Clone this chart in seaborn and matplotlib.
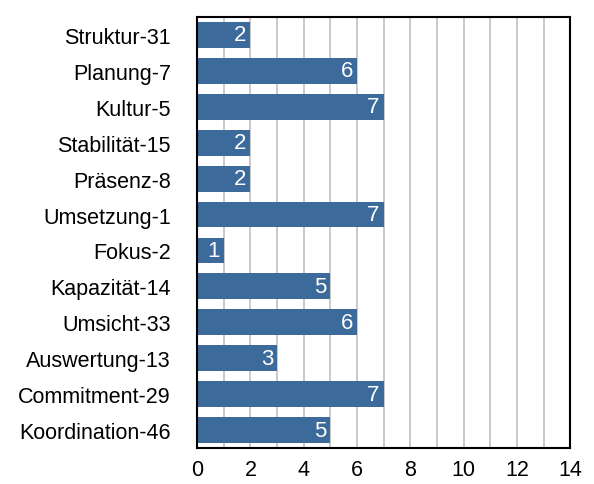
import matplotlib
matplotlib.use("Agg")
import matplotlib.pyplot as plt
import seaborn as sns
import pandas as pd
from matplotlib.ticker import MultipleLocator

categories = ["Struktur-31", "Planung-7", "Kultur-5", "Stabilität-15", "Präsenz-8",
              "Umsetzung-1", "Fokus-2", "Kapazität-14", "Umsicht-33", "Auswertung-13",
              "Commitment-29", "Koordination-46"]
values = [2, 6, 7, 2, 2, 7, 1, 5, 6, 3, 7, 5]

df = pd.DataFrame({"label": categories, "value": values})

sns.set_theme(style="white")
plt.rcParams['font.family'] = ['Liberation Sans', 'DejaVu Sans']

fig = plt.figure(figsize=(5.94, 4.85), dpi=100)
ax = fig.add_axes([0.332, 0.074, 0.628, 0.889])

ax.xaxis.set_major_locator(MultipleLocator(2))
ax.xaxis.set_minor_locator(MultipleLocator(1))
ax.grid(True, which="both", axis="x", color="#c0c0c0", linewidth=1.2)
ax.set_axisbelow(True)

sns.barplot(data=df, x="value", y="label", color="#3b6a9b", saturation=1,
            width=0.72, linewidth=0, ax=ax)

for i, v in enumerate(values):
    ax.text(v - 0.15, i, str(v), color="white", ha="right", va="center", fontsize=16)

ax.set_xlim(0, 14)
ax.set_xlabel("")
ax.set_ylabel("")
ax.tick_params(axis="both", labelsize=15.5, length=0, labelcolor="black")
ax.tick_params(axis="y", pad=19)
ax.tick_params(axis="x", pad=8)
for s in ax.spines.values():
    s.set_color("black")
    s.set_linewidth(1.5)

fig.savefig("out.png", dpi=100)
